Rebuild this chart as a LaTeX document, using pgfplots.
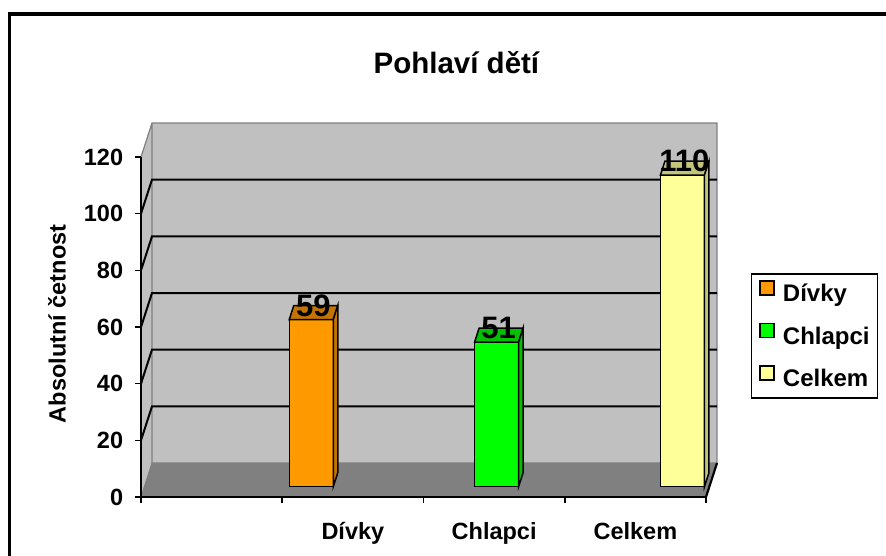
\documentclass[border=0pt]{standalone}
\usepackage{fontspec}
\setmainfont{Liberation Sans}
\usepackage{pgfplots}
\pgfplotsset{compat=1.18}

\definecolor{cDivky}{HTML}{FF9900}
\definecolor{cDivkyTop}{HTML}{C27400}
\definecolor{cChl}{HTML}{00FF00}
\definecolor{cChlTop}{HTML}{00C000}
\definecolor{cCel}{HTML}{FFFF99}
\definecolor{cCelTop}{HTML}{C4C47A}
\definecolor{wallGray}{HTML}{C0C0C0}
\definecolor{floorGray}{HTML}{808080}

\newcommand{\lbl}{\fontsize{23.5}{27}\selectfont\bfseries}

\begin{document}
\begin{tikzpicture}
\useasboundingbox (0pt,0pt) rectangle (886pt,-555pt);
\draw[line width=3.5pt] (9.3pt,-14pt) rectangle (900pt,-580pt);

\begin{axis}[
  at={(141pt,-497pt)}, anchor=south west,
  scale only axis, width=565pt, height=340pt,
  xmin=0, xmax=4, ymin=0, ymax=120,
  clip=false, axis on top,
  axis lines*=left,
  axis line style={line width=2.4pt},
  tick align=outside, major tick length=6pt,
  tick style={black, line width=1.6pt},
  ytick={0,20,...,120},
  xtick={0,1,2,3,4},
  x tick label as interval,
  xticklabels={{},Dívky,Chlapci,Celkem},
  /pgf/number format/assume math mode=true,
  tick label style={font=\lbl},
  yticklabel style={anchor=east, inner sep=0pt, xshift=-11.7pt},
  xticklabel style={anchor=base, inner sep=0pt, yshift=-36pt},
  ylabel={Absolutní četnost},
  ylabel style={at={(axis description cs:-0.1336,0.509)}, anchor=base, font=\lbl},
  legend cell align=left,
  legend image code/.code={\draw[#1, draw=black, line width=1.8pt] (0pt,0.7pt) rectangle (14pt,14.7pt);},
  legend style={at={(axis description cs:1.079,0.658)}, anchor=north west,
    draw=black, line width=1.6pt, font=\fontsize{24}{27}\selectfont\bfseries,
    inner xsep=8pt, inner ysep=6pt, row sep=16pt,
    nodes={inner sep=0pt, text height=17pt, text depth=5pt},
    /tikz/every odd column/.append style={column sep=7.7pt}},
]
% walls and floor
\fill[wallGray] (0.0779,12) rectangle (4.0779,132);
\fill[wallGray] (0,0) -- (0.0779,12) -- (0.0779,132) -- (0,120) -- cycle;
\fill[floorGray] (0,0) -- (4,0) -- (4.0779,12) -- (0.0779,12) -- cycle;
\draw[floorGray, line width=1.2pt] (0,120) -- (0.0779,132) -- (4.0779,132) -- (4.0779,12) -- (0.0779,12) -- (0.0779,132);
\draw[floorGray, line width=1pt] (0,0) -- (0.0779,12);
% grid on the walls
\draw[line width=2pt] (0,20) -- (0.0779,32) -- (4.0779,32);
\draw[line width=2pt] (0,40) -- (0.0779,52) -- (4.0779,52);
\draw[line width=2pt] (0,60) -- (0.0779,72) -- (4.0779,72);
\draw[line width=2pt] (0,80) -- (0.0779,92) -- (4.0779,92);
\draw[line width=2pt] (0,100) -- (0.0779,112) -- (4.0779,112);
\draw[line width=2.2pt] (4,0) -- (4.0779,12);

% bars
\pgfplotsset{
  barface/.style={draw=black, line width=1.5pt, xshift=3.3pt, yshift=10.3pt, forget plot},
  frontbar/.style={barface, ybar, bar width=0.3115, bar shift=0pt,
    nodes near coords,
    every node near coord/.style={anchor=center, xshift=2pt, yshift=14pt,
      font=\fontsize{31}{34}\selectfont\bfseries, inner sep=0pt}},
}
\addplot[frontbar, fill=cDivky] coordinates {(1.182,59)};
\addplot[barface, fill=cDivkyTop] coordinates {(1.0262,59) (1.3378,59) (1.3697,63.94) (1.0581,63.94)} -- cycle;
\addplot[barface, fill=cDivkyTop] coordinates {(1.3378,0) (1.3378,59) (1.3697,63.94) (1.3697,4.94)} -- cycle;

\addplot[frontbar, fill=cChl] coordinates {(2.494,51)};
\addplot[barface, fill=cChlTop] coordinates {(2.3382,51) (2.6498,51) (2.6817,55.94) (2.3701,55.94)} -- cycle;
\addplot[barface, fill=cChlTop] coordinates {(2.6498,0) (2.6498,51) (2.6817,55.94) (2.6817,4.94)} -- cycle;

\addplot[frontbar, fill=cCel] coordinates {(3.810,110)};
\addplot[barface, fill=cCelTop] coordinates {(3.6542,110) (3.9658,110) (3.9977,114.94) (3.6861,114.94)} -- cycle;
\addplot[barface, fill=cCelTop] coordinates {(3.9658,0) (3.9658,110) (3.9977,114.94) (3.9977,4.94)} -- cycle;

\addlegendimage{fill=cDivky}\addlegendentry{Dívky}
\addlegendimage{fill=cChl}\addlegendentry{Chlapci}
\addlegendimage{fill=cCel}\addlegendentry{Celkem}
\end{axis}

\node[anchor=base, font=\fontsize{29.5}{32}\selectfont\bfseries] at (456.4pt,-73.3pt) {Pohlaví dětí};
\end{tikzpicture}
\end{document}
